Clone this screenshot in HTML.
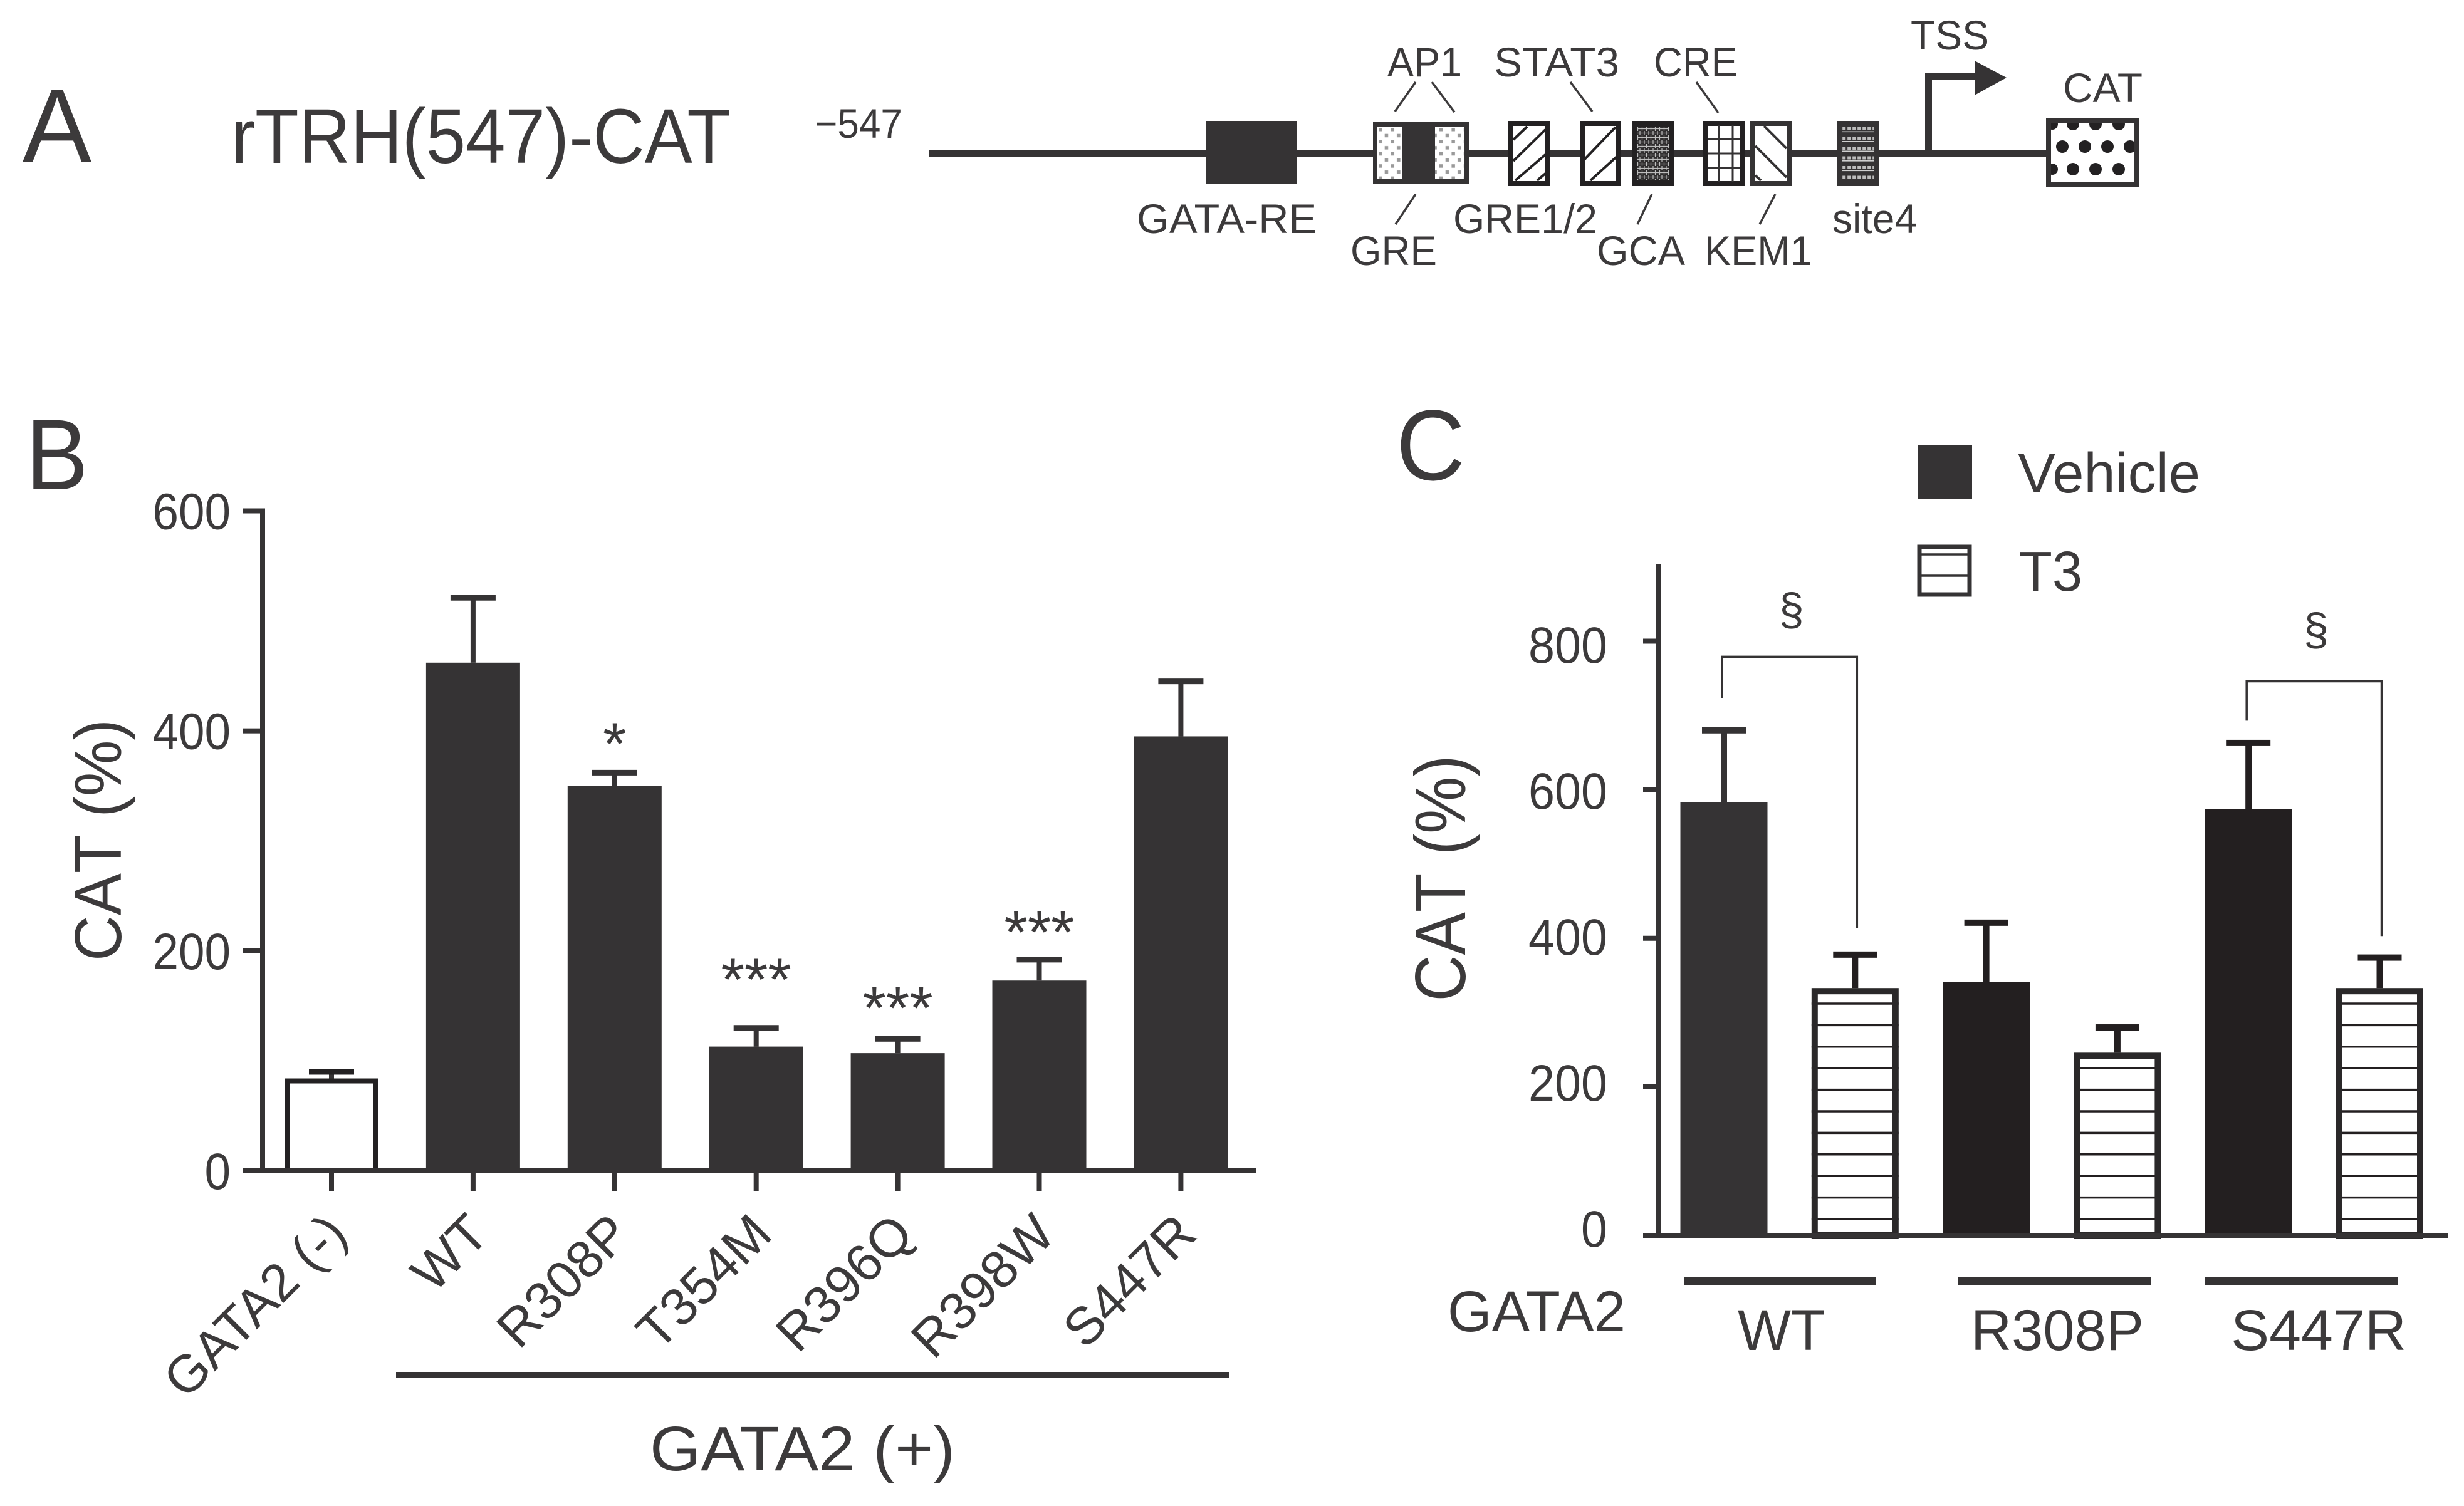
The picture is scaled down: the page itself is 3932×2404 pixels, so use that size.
<!DOCTYPE html>
<html lang="en">
<head>
<meta charset="utf-8">
<title>rTRH(547)-CAT reporter assays</title>
<style>
html,body{margin:0;padding:0;background:#fff;}
svg{display:block;}
text{font-family:"Liberation Sans",sans-serif;fill:#3c3a3b;}
.nokern{font-kerning:none;}
</style>
</head>
<body>
<svg id="fig" xmlns="http://www.w3.org/2000/svg" width="3932" height="2404" viewBox="0 0 3932 2404">
<defs>
<pattern id="dotsLight" patternUnits="userSpaceOnUse" x="2198" y="202" width="19.4" height="19.4">
<rect width="19.4" height="19.4" fill="#fff"/>
<rect x="2" y="2" width="5.5" height="5.5" fill="#9a9a9a"/>
<rect x="11.7" y="11.7" width="5.5" height="5.5" fill="#9a9a9a"/>
</pattern>
<pattern id="meshDark" patternUnits="userSpaceOnUse" x="2612" y="202" width="7" height="14">
<rect width="7" height="14" fill="#2f2d2e"/>
<path d="M0 3.5H7M0 10.5H7M1.5 0V7M5 7V14" stroke="#bdbdbd" stroke-width="1.2" fill="none"/>
</pattern>
<pattern id="rowsDark" patternUnits="userSpaceOnUse" x="2939" y="202" width="8" height="15.5">
<rect width="8" height="15.5" fill="#353334"/>
<rect x="1.2" y="1" width="5" height="5" fill="#bcbcbc"/>
<rect x="0" y="7.5" width="8" height="1.6" fill="#d0d0d0"/>
</pattern>
</defs>

<!-- Panel A: promoter diagram -->
<g id="panel-a">
<text x="36" y="258" font-size="167" textLength="110" lengthAdjust="spacingAndGlyphs">A</text>
<text x="369" y="260" font-size="123" textLength="797" lengthAdjust="spacingAndGlyphs">rTRH(547)-CAT</text>
<text x="1300" y="220" font-size="66" textLength="140" lengthAdjust="spacingAndGlyphs">−547</text>
<rect x="1483" y="240" width="1785" height="11" fill="#353334"/>
<rect x="1925" y="193" width="145" height="100" fill="#353334"/>

<g>
<rect x="2191" y="195" width="153" height="99" fill="#353334"/>
<rect x="2198" y="202" width="39" height="84" fill="url(#dotsLight)"/>
<rect x="2290" y="202" width="47" height="84" fill="url(#dotsLight)"/>
</g>

<g>
<rect x="2411" y="197" width="58" height="96" fill="#fff" stroke="#232122" stroke-width="8"/>
<path d="M2415 223L2437 202M2415 257L2466 207M2418 288L2466 247M2453 288L2466 277" stroke="#232122" stroke-width="4" fill="none"/>
</g>
<g>
<rect x="2526" y="197" width="57" height="96" fill="#fff" stroke="#232122" stroke-width="8"/>
<path d="M2528 255L2578 203M2538 288L2580 250" stroke="#232122" stroke-width="4" fill="none"/>
</g>
<g>
<rect x="2604" y="193" width="67" height="104" fill="#232122"/>
<rect x="2612" y="202" width="51" height="86" fill="url(#meshDark)"/>
</g>
<g>
<rect x="2722" y="197" width="59" height="96" fill="#fff" stroke="#232122" stroke-width="8"/>
<path d="M2743 200V290M2765 200V290M2726 222H2777M2726 245H2777M2726 268H2777" stroke="#353334" stroke-width="3" fill="none"/>
</g>
<g>
<rect x="2797" y="197" width="58" height="96" fill="#fff" stroke="#353334" stroke-width="8"/>
<path d="M2815 201L2851 237M2801 233L2851 283M2801 280L2810 288" stroke="#353334" stroke-width="4" fill="none"/>
</g>
<g>
<rect x="2932" y="193" width="66" height="104" fill="#353334"/>
<rect x="2939" y="202" width="52" height="86" fill="url(#rowsDark)"/>
</g>

<g>
<rect x="3072" y="117" width="11" height="128" fill="#353334"/>
<rect x="3072" y="117" width="82" height="11" fill="#353334"/>
<polygon points="3151,97 3202,124 3151,152" fill="#353334"/>
</g>

<g>
<rect x="3269" y="192" width="141" height="102" fill="#fff"/>
<g fill="#232122">
<circle cx="3308" cy="198" r="10"/><circle cx="3344" cy="198" r="10"/><circle cx="3381" cy="198" r="10"/><circle cx="3275" cy="198" r="9"/>
<circle cx="3291" cy="234" r="10"/><circle cx="3327" cy="234" r="10"/><circle cx="3363" cy="234" r="10"/><circle cx="3399" cy="234" r="10"/>
<circle cx="3275" cy="270" r="9"/><circle cx="3308" cy="270" r="10"/><circle cx="3344" cy="270" r="10"/><circle cx="3381" cy="270" r="10"/>
</g>
<rect x="3269" y="192" width="141" height="102" fill="none" stroke="#353334" stroke-width="8"/>
</g>

<path d="M2259 131L2226 178M2285 131L2321 179M2506 131L2541 178M2707 131L2742 180M2259 310L2227 358M2636 310L2613 358M2833 310L2808 358" stroke="#3c3a3b" stroke-width="3.5" fill="none"/>

<g font-size="66">
<text x="2214" y="122" textLength="119" lengthAdjust="spacingAndGlyphs">AP1</text>
<text x="2384" y="122" textLength="200" lengthAdjust="spacingAndGlyphs">STAT3</text>
<text x="2639" y="122" textLength="134" lengthAdjust="spacingAndGlyphs">CRE</text>
<text x="3049" y="79" textLength="125" lengthAdjust="spacingAndGlyphs">TSS</text>
<text x="3292" y="163" textLength="127" lengthAdjust="spacingAndGlyphs">CAT</text>
<text x="1814" y="372" textLength="287" lengthAdjust="spacingAndGlyphs">GATA-RE</text>
<text x="2155" y="423" textLength="138" lengthAdjust="spacingAndGlyphs">GRE</text>
<text x="2319" y="372" textLength="230" lengthAdjust="spacingAndGlyphs">GRE1/2</text>
<text x="2548" y="423" textLength="141" lengthAdjust="spacingAndGlyphs">GCA</text>
<text x="2720" y="423" textLength="172" lengthAdjust="spacingAndGlyphs">KEM1</text>
<text x="2924" y="372" textLength="135" lengthAdjust="spacingAndGlyphs">site4</text>
</g>
</g>

<!-- Panel B static text -->
<text x="41" y="781" font-size="160" textLength="100" lengthAdjust="spacingAndGlyphs">B</text>
<text class="nokern" transform="translate(193,1341) rotate(-90)" text-anchor="middle" font-size="106" textLength="386" lengthAdjust="spacingAndGlyphs">CAT (%)</text>
<rect x="632" y="2190" width="1330" height="9" fill="#353334"/>
<text x="1037" y="2347" font-size="100" textLength="487" lengthAdjust="spacingAndGlyphs">GATA2 (+)</text>
<g id="chart-b"></g>

<!-- Panel C static text -->
<text x="2228" y="766" font-size="160" textLength="110" lengthAdjust="spacingAndGlyphs">C</text>
<text class="nokern" transform="translate(2338,1402) rotate(-90)" text-anchor="middle" font-size="114" textLength="393" lengthAdjust="spacingAndGlyphs">CAT (%)</text>
<rect x="3060" y="711" width="87" height="85" fill="#353334"/>
<text x="3220" y="786" font-size="90" textLength="291" lengthAdjust="spacingAndGlyphs">Vehicle</text>
<g>
<rect x="3063" y="873" width="80" height="76" fill="#fff" stroke="#353334" stroke-width="7"/>
<path d="M3063 885H3143M3063 919H3143" stroke="#353334" stroke-width="3.5"/>
</g>
<text x="3222" y="943" font-size="90" textLength="101" lengthAdjust="spacingAndGlyphs">T3</text>
<rect x="2688" y="2038" width="306" height="13" fill="#353334"/>
<rect x="3124" y="2038" width="308" height="13" fill="#353334"/>
<rect x="3519" y="2038" width="308" height="13" fill="#353334"/>
<text x="2310" y="2125" font-size="92" textLength="284" lengthAdjust="spacingAndGlyphs">GATA2</text>
<text x="2773" y="2155" font-size="92" textLength="140" lengthAdjust="spacingAndGlyphs">WT</text>
<text x="3145" y="2155" font-size="92" textLength="276" lengthAdjust="spacingAndGlyphs">R308P</text>
<text x="3560" y="2155" font-size="92" textLength="280" lengthAdjust="spacingAndGlyphs">S447R</text>
<g id="chart-c"></g>
</svg>

<script>
// Chart B data
var bCategories = ["GATA2 (-)", "WT", "R308P", "T354M", "R396Q", "R398W", "S447R"];
var bMeans = [84, 462, 350, 113, 107, 173, 395];
var bErrorTops = [90, 521, 362, 130, 120, 192, 445];
var bStars = ["", "", "*", "***", "***", "***", ""];
var bStarLevels = [0, 0, 396, 182, 156, 225, 0];
var bTicks = [0, 200, 400, 600];

// Chart C data
var cSeriesOrder = ["Vehicle", "T3", "Vehicle", "T3", "Vehicle", "T3"];
var cMeans = [583, 333, 341, 246, 574, 333];
var cErrorTops = [680, 378, 421, 280, 663, 374];
var cTicks = [0, 200, 400, 600, 800];
var cBracketBars = [[0, 1], [4, 5]];
var cBracketTops = [779, 746];
var cBracketLeftEnds = [723, 693];
var cBracketRightEnds = [414, 403];
var cBracketMarks = ["§", "§"];
var cBracketMarkLevels = [822, 795];

var SVGNS = "http://www.w3.org/2000/svg";
var DARK = "#353334";
function el(parent, tag, attrs) {
  var e = document.createElementNS(SVGNS, tag);
  for (var k in attrs) e.setAttribute(k, attrs[k]);
  parent.appendChild(e);
  return e;
}

// ---- Chart B ----
(function () {
  var g = document.getElementById("chart-b");
  function by(v) { return 1869 - v * (1869 - 815.5) / 600; }
  function bx(i) { return 529 + i * 225.9; }
  var barW = 150;

  bCategories.forEach(function (name, i) {
    var cx = bx(i);
    var top = by(bMeans[i]);
    var et = by(bErrorTops[i]);
    var stem = el(g, "rect", { x: cx - 4, y: et, width: 8, height: top - et, fill: DARK });
    
    
    var cap = el(g, "rect", { x: cx - 36, y: et - 4.5, width: 72, height: 9, fill: i === 0 ? "#232122" : DARK });
    
    
    var bar;
    if (i === 0) {
      bar = el(g, "rect", { x: cx - barW / 2 + 4, y: top + 4, width: barW - 8, height: 1869 - top - 4, fill: "#fff", stroke: "#232122", "stroke-width": 8 });
    } else {
      bar = el(g, "rect", { x: cx - barW / 2, y: top, width: barW, height: 1869 - top, fill: DARK });
    }
    
    
    var tick = el(g, "rect", { x: cx - 4, y: 1869, width: 8, height: 32, fill: DARK });
    
    
    var lbl = el(g, "text", { transform: "translate(" + (cx + 29) + ",1974) rotate(-45)", "text-anchor": "end", "font-size": 84 });
    lbl.textContent = name;
    
    
    if (bStars[i]) {
      var st = el(g, "text", { x: cx, y: by(bStarLevels[i]) + 47, "text-anchor": "middle", "font-size": 96 });
      st.textContent = bStars[i];
      
      
    }
  });

  bTicks.forEach(function (t) {
    var y = by(t);
    var tick = el(g, "rect", { x: 388, y: y - 4, width: 32, height: 8, fill: DARK });
    
    
    var lbl = el(g, "text", { x: 368, y: y + 29, "text-anchor": "end", "font-size": 82, textLength: String(t).length * 41.5, lengthAdjust: "spacingAndGlyphs" });
    lbl.textContent = String(t);
    
    
  });

  var yAxis = el(g, "rect", { x: 415, y: by(600) - 4, width: 8, height: by(0) - by(600) + 8, fill: DARK });
  
  
  var xAxis = el(g, "rect", { x: 388, y: 1865, width: 1617, height: 8, fill: DARK });
  
  
})();

// ---- Chart C ----
(function () {
  var g = document.getElementById("chart-c");
  var BLACK = "#231f20";
  function cy(v) { return 1972 - v * (1972 - 1023.5) / 800; }
  function cLabelY(v) { return 1990 - v * (1990 - 1058) / 800; }
  function cx(i) { return 2751 + i * 209.3; }
  var barW = 139;

  cMeans.forEach(function (mean, i) {
    var c = cx(i);
    var top = cy(mean);
    var et = cy(cErrorTops[i]);
    var col = i === 0 ? DARK : BLACK;
    var stem = el(g, "rect", { x: c - 5, y: et, width: 10, height: top - et, fill: col });
    
    
    var cap = el(g, "rect", { x: c - 35, y: et - 5, width: 70, height: 10, fill: col });
    
    
    if (cSeriesOrder[i] === "Vehicle") {
      var bar = el(g, "rect", { x: c - barW / 2, y: top, width: barW, height: 1972 - top, fill: col });
      
      
    } else {
      var wrap = el(g, "g", {});
      
      
      el(wrap, "rect", { x: c - barW / 2 + 5, y: top + 5, width: barW - 10, height: 1972 - top - 5, fill: "#fff" });
      for (var ly = 1946; ly > top + 8; ly -= 34.4) {
        el(wrap, "line", { x1: c - barW / 2, x2: c + barW / 2, y1: ly, y2: ly, stroke: BLACK, "stroke-width": 3.5 });
      }
      el(wrap, "rect", { x: c - barW / 2 + 5, y: top + 5, width: barW - 10, height: 1972 - top - 5, fill: "none", stroke: "#2a2829", "stroke-width": 10 });
    }
  });

  cTicks.forEach(function (t) {
    var y = cy(t);
    var tick = el(g, "rect", { x: 2622, y: y - 4, width: 26, height: 8, fill: DARK });
    
    
    var lbl = el(g, "text", { x: 2565, y: cLabelY(t), "text-anchor": "end", "font-size": 82, textLength: String(t).length * 42, lengthAdjust: "spacingAndGlyphs" });
    lbl.textContent = String(t);
    
    
  });

  cBracketBars.forEach(function (pair, i) {
    var x1 = cx(pair[0]) - 3;
    var x2 = cx(pair[1]) + 3;
    var t = cy(cBracketTops[i]);
    var br = el(g, "path", { d: "M" + x1 + " " + cy(cBracketLeftEnds[i]) + "V" + t + "H" + x2 + "V" + cy(cBracketRightEnds[i]), fill: "none", stroke: DARK, "stroke-width": 3.5 });
    
    
    var m = el(g, "text", { x: (x1 + x2) / 2 + 3, y: cy(cBracketMarkLevels[i]), "text-anchor": "middle", "font-size": 72 });
    m.textContent = cBracketMarks[i];
    
    
  });

  var yAxis = el(g, "rect", { x: 2643, y: 900, width: 8, height: 1076, fill: DARK });
  
  
  var xAxis = el(g, "rect", { x: 2622, y: 1968, width: 1284, height: 8, fill: DARK });
  
  
})();
</script>
</body>
</html>
